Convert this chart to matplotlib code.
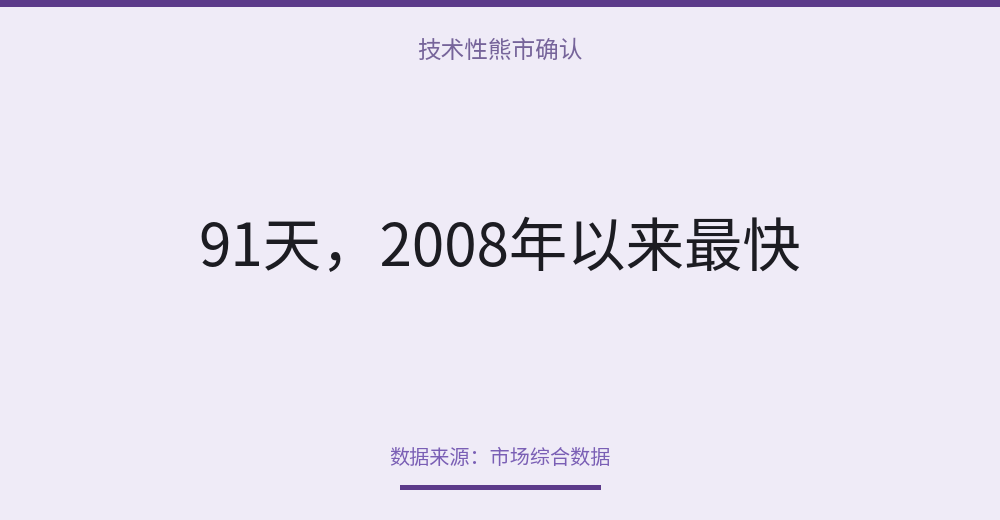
import matplotlib
matplotlib.use("Agg")
import matplotlib.pyplot as plt
from matplotlib.patches import Rectangle

plt.rcParams['font.family'] = ['Noto Sans CJK SC', 'DejaVu Sans']

title = "技术性熊市确认"
headline_value = "91天"
headline_rest = "，2008年以来最快"
source = "数据来源：市场综合数据"

bg = "#efebf7"
accent = "#5c3a8a"

fig = plt.figure(figsize=(10, 5.2), dpi=100)
fig.patch.set_facecolor(bg)
ax = fig.add_axes([0, 0, 1, 1])
ax.set_xlim(0, 1000)
ax.set_ylim(520, 0)
ax.axis("off")

ax.add_patch(Rectangle((0, 0), 1000, 6.5, color=accent, lw=0))
ax.add_patch(Rectangle((400, 485), 201, 5, color=accent, lw=0))

ax.text(500, 51, title, ha="center", va="center", fontsize=17, color="#76649a")
ax.text(500, 250, headline_value + headline_rest, ha="center", va="center",
        fontsize=42, color="#1c1c22")
ax.text(500, 458, source, ha="center", va="center", fontsize=14.5, color="#7a5fb5")

fig.savefig("out.png", dpi=100, facecolor=bg)
